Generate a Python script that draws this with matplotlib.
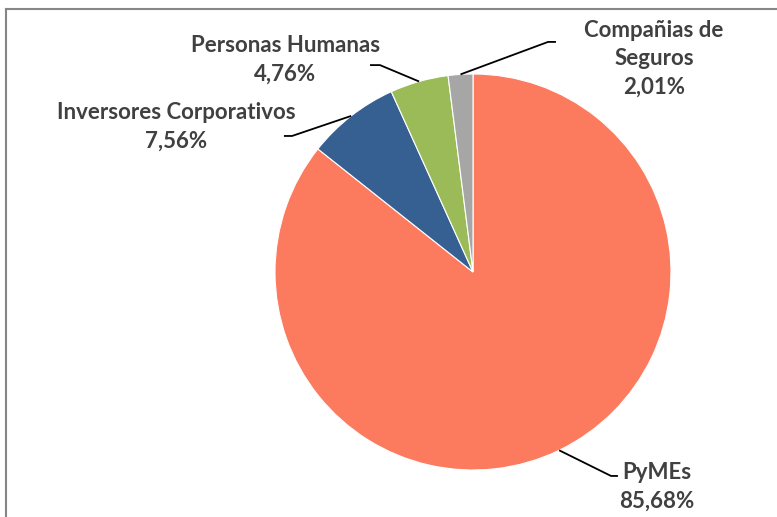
import matplotlib.pyplot as plt
from matplotlib.lines import Line2D
import numpy as np

# data
labels = ["PyMEs", "Inversores Corporativos", "Personas Humanas", "Compañias de\nSeguros"]
values = [85.68, 7.56, 4.76, 2.01]
colors = ["#FC7B5F", "#376092", "#9BBB59", "#A6A6A6"]

# label layout (data coords, radius = 1): elbow point, line end, text centre
elbows = [(0.697, -1.030), (-0.914, 0.687), (-0.470, 1.045), (0.379, 1.162)]
ends = [(0.732, -1.030), (-0.955, 0.687), (-0.520, 1.045), (0.419, 1.162)]
text_pos = [(0.930, -1.083), (-1.50, 0.732), (-0.949, 1.071), (0.914, 1.077)]

plt.rcParams['font.family'] = ['Lato', 'DejaVu Sans']

fig = plt.figure(figsize=(7.77, 5.17), dpi=100)
ax = fig.add_axes([275 / 777, 47 / 517, 396 / 777, 396 / 517])

wedges, _ = ax.pie(values, colors=colors, startangle=90, counterclock=False,
                   radius=1, wedgeprops=dict(edgecolor="white", linewidth=0.8))
ax.set_xlim(-1, 1)
ax.set_ylim(-1, 1)
ax.set_aspect("equal")
ax.axis("off")

for w, lab, val, el, en, tp in zip(wedges, labels, values, elbows, ends, text_pos):
    ang = np.deg2rad((w.theta1 + w.theta2) / 2)
    x0, y0 = np.cos(ang), np.sin(ang)
    ax.plot([x0, el[0], en[0]], [y0, el[1], en[1]], color="black", lw=1.3,
            clip_on=False, solid_capstyle="butt")
    txt = f"{lab}\n{val:.2f}%".replace(".", ",")
    ax.text(tp[0], tp[1], txt, ha="center", va="center", fontsize=16,
            fontweight="bold", color="#404040", linespacing=1.45, clip_on=False)

# chart border (left and top visible)
fig.add_artist(Line2D([6 / 777, 6 / 777], [0, 1 - 9 / 517], color="#868686", lw=1.5))
fig.add_artist(Line2D([6 / 777, 1], [1 - 9 / 517, 1 - 9 / 517], color="#868686", lw=1.5))

fig.savefig("out.png", dpi=100)
